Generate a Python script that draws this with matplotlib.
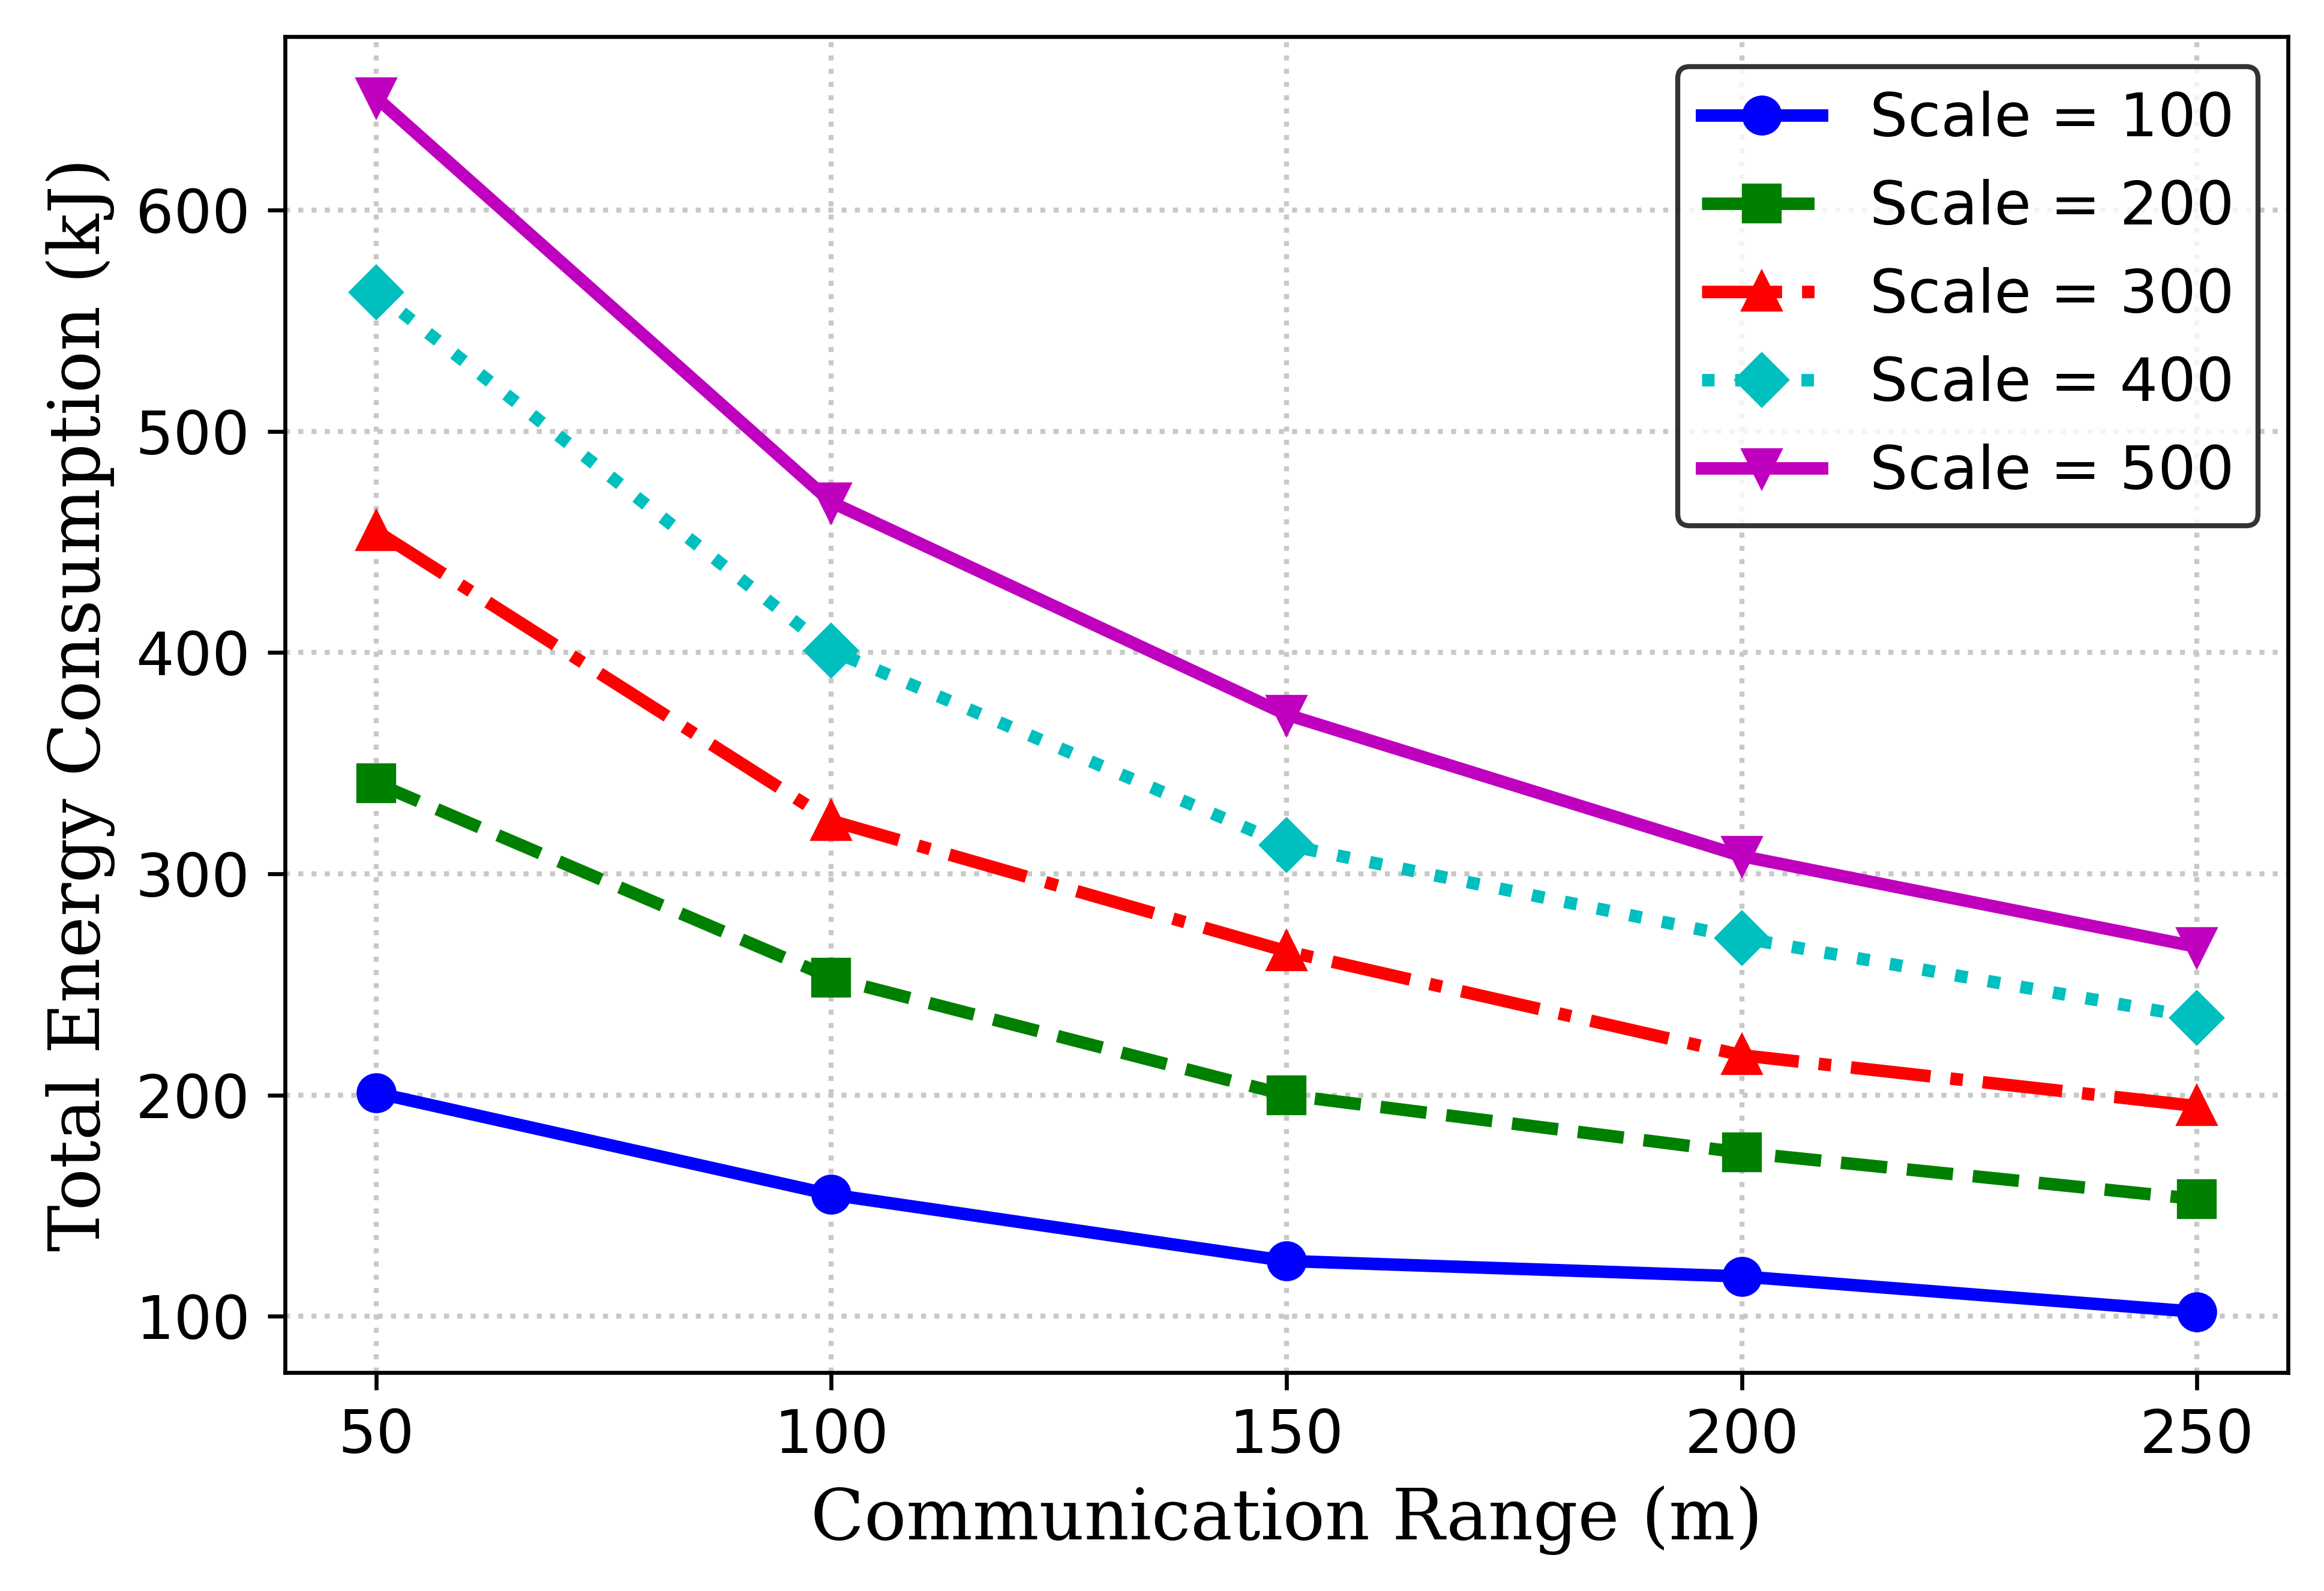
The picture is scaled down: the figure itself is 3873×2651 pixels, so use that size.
import matplotlib
matplotlib.use("Agg")
import matplotlib.pyplot as plt

comm_range = [50, 100, 150, 200, 250]
scale_labels = ["Scale = 100", "Scale = 200", "Scale = 300", "Scale = 400", "Scale = 500"]
energy_100 = [201, 155, 125, 118, 102]
energy_200 = [341, 253, 200, 174, 153]
energy_300 = [455, 324, 265, 218, 195]
energy_400 = [563, 401, 313, 271, 235]
energy_500 = [651, 468, 372, 308, 267]

series = [energy_100, energy_200, energy_300, energy_400, energy_500]
styles = [("b", "o", "-"), ("g", "s", "--"), ("r", "^", "-."), ("c", "D", ":"), ("m", "v", "-")]

fig = plt.figure(figsize=(3873 / 600, 2651 / 600), dpi=600)
ax = fig.add_axes([0.1226, 0.1373, 0.9845 - 0.1226, 0.977 - 0.1373])

for vals, lab, (c, mk, ls) in zip(series, scale_labels, styles):
    ax.plot(comm_range, vals, color=c, marker=mk, linestyle=ls, linewidth=2.5,
            markersize=7, label=lab)

ax.set_xticks(comm_range)
ax.tick_params(labelsize=12)
ax.grid(True, linestyle=":", color="#c8c8c8", linewidth=1.0)
ax.set_xlabel("Communication Range (m)", family="DejaVu Serif", fontsize=14)
ax.set_ylabel("Total Energy Consumption (kJ)", family="DejaVu Serif", fontsize=14)
ax.legend(loc="upper right", fontsize=12, edgecolor="black")

fig.savefig("out.png", dpi=600)
